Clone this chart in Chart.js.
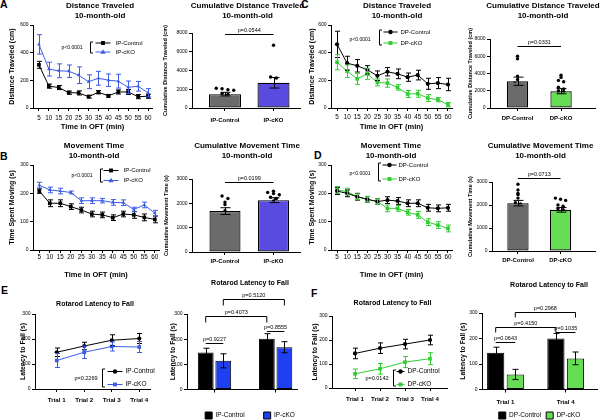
<!DOCTYPE html>
<html><head><meta charset="utf-8">
<script src="https://cdn.jsdelivr.net/npm/chart.js@4.4.0/dist/chart.umd.min.js"></script>
<style>
html,body{margin:0;padding:0;background:#fff;width:600px;height:420px;overflow:hidden;position:relative;font-family:'Liberation Sans',Arial,sans-serif}
canvas{position:absolute}
.lab{position:absolute;font-weight:bold;font-size:10.5px;line-height:11px;color:#000}
</style></head><body>
<div class="lab" style="left:0px;top:-1.5px">A</div>
<div class="lab" style="left:0px;top:150.5px">B</div>
<div class="lab" style="left:301px;top:-1.5px">C</div>
<div class="lab" style="left:314px;top:150px">D</div>
<div class="lab" style="left:1px;top:285px">E</div>
<div class="lab" style="left:311px;top:288px">F</div>
<script>
// ---------- data ----------
const minutes = [5,10,15,20,25,30,35,40,45,50,55,60];
const trials = ['Trial 1','Trial 2','Trial 3','Trial 4'];
const barTrials = ['Trial 1','Trial 4'];
const ipGroups = ['IP-Control','IP-cKO'];
const dpGroups = ['DP-Control','DP-cKO'];

// A: distance traveled (cm)
const ipDistCtrl    = [312,158,148,111,109,82,114,88,116,116,82,85];
const ipDistCtrlSem = [25,15,15,12,15,10,12,10,15,18,15,15];
const ipDistCko     = [460,281,269,266,237,190,215,201,194,150,157,110];
const ipDistCkoSem  = [70,50,50,45,60,50,50,45,50,45,35,30];
// C
const dpDistCtrl    = [460,324,305,276,233,262,247,223,238,175,180,170];
const dpDistCtrlSem = [95,50,45,30,35,30,35,30,35,40,40,45];
const dpDistCko     = [331,266,211,247,185,180,149,101,103,72,60,24];
const dpDistCkoSem  = [55,45,40,40,25,30,20,25,25,25,15,15];
// B: movement time (s)
const ipTimeCtrl    = [208,165,165,153,141,127,124,114,127,124,115,108];
const ipTimeCtrlSem = [8,12,12,10,10,10,10,10,10,12,12,12];
const ipTimeCko     = [229,212,208,203,174,174,174,168,167,143,159,130];
const ipTimeCkoSem  = [10,10,10,5,10,10,8,10,10,8,10,10];
// D
const dpTimeCtrl    = [208,200,188,179,171,176,173,165,165,149,147,149];
const dpTimeCtrlSem = [12,12,12,10,10,12,12,12,12,12,12,12];
const dpTimeCko     = [212,206,188,179,171,147,147,133,124,98,88,76];
const dpTimeCkoSem  = [12,12,10,10,10,12,10,10,12,12,12,12];

// cumulative bars (mean, SEM, individual animals)
const ipCumDist = [1480, 2690];
const ipCumDistSem = [190, 560];
const ipCumDistCtrlDots = [2100,2050,1950,1900,1550,1450,900,850,800];
const ipCumDistCkoDots  = [6700,3300,3200,2400,2300,1800,1700,1600,1100];
const dpCumDist = [3100, 1950];
const dpCumDistSem = [480, 300];
const dpCumDistCtrlDots = [6000,5700,3700,3300,2900,2750,2400,2050,1550,1000];
const dpCumDistCkoDots  = [3800,3550,3200,3050,2400,2200,2000,1900,1700,1500,1300,1100,700,350];
const ipCumTime = [1680, 2130];
const ipCumTimeSem = [140, 100];
const ipCumTimeCtrlDots = [2300,2200,2050,1950,1700,1500,1300,1200,1150];
const ipCumTimeCkoDots  = [2500,2450,2400,2350,2250,2200,2100,1900,1550];
const dpCumTime = [2080, 1790];
const dpCumTimeSem = [120, 100];
const dpCumTimeCtrlDots = [2900,2650,2500,2450,2300,2100,2050,1950,1800,1800,1750,1450,1350];
const dpCumTimeCkoDots  = [2300,2250,2200,2000,1950,1850,1800,1700,1700,1500,1400,1350,1300];

// E/F: rotarod latency to fall (s)
const ipRotCtrl    = [147,172,195,202];
const ipRotCtrlSem = [17,15,22,20];
const ipRotCko     = [114,147,170,168];
const ipRotCkoSem  = [28,25,18,22];
const dpRotCtrl    = [144,166,183,200];
const dpRotCtrlSem = [22,22,20,20];
const dpRotCko     = [59,80,108,122];
const dpRotCkoSem  = [20,22,23,25];

// p values
const pLines = ['p<0.0001','p<0.0001','p<0.0001','p<0.0001','p=0.2269','p=0.0142'];
const pBarsAD = ['p=0.0544','p=0.0331','p=0.0199','p=0.0713'];
const pBarsE = ['p=0.9227','p=0.8555','p=0.4073','p=0.5120'];
const pBarsF = ['p=0.0643','p=0.1035','p=0.4150','p=0.2968'];

// ---------- styles ----------
const FONT = "'Liberation Sans', Arial, sans-serif";
Chart.defaults.font.family = FONT;
Chart.defaults.color = '#000';
const C_BLACK = '#000000', C_GRAY = '#6b6b6b';
const C_IPLINE = '#3d5ce6', C_IPBAR = '#5a4be0', C_IPBARE = '#1f3ff2';
const C_DPLINE = '#33cc33', C_DPBAR = '#66dd55';

function drawMarker(ctx, style, x, y, r, fill) {
  ctx.save(); ctx.fillStyle = fill; ctx.beginPath();
  if (style === 'rect') { const h = r * 0.75; ctx.rect(x - h, y - h, 2*h, 2*h); }
  else if (style === 'triangle') { ctx.moveTo(x, y - r*1.1); ctx.lineTo(x + r, y + r*0.7); ctx.lineTo(x - r, y + r*0.7); ctx.closePath(); }
  else { ctx.arc(x, y, r*0.85, 0, Math.PI*2); }
  ctx.fill(); ctx.restore();
}

const errorBars = {
  id: 'errorBars',
  afterDatasetsDraw(chart) {
    const ctx = chart.ctx;
    chart.data.datasets.forEach((ds, di) => {
      if (!ds.errors) return;
      const meta = chart.getDatasetMeta(di);
      const ys = chart.scales[meta.yAxisID];
      ctx.save();
      ctx.strokeStyle = ds.errorColor || ds.borderColor;
      ctx.lineWidth = 1;
      meta.data.forEach((el, i) => {
        const v = meta.controller.getParsed(i).y;
        const e = ds.errors[i];
        const yt = ys.getPixelForValue(v + e), yb = ys.getPixelForValue(v - e);
        const x = Math.round(el.x) + 0.5, c = ds.capHalf || 2.5;
        ctx.beginPath();
        ctx.moveTo(x, yt); ctx.lineTo(x, yb);
        ctx.moveTo(x - c, yt); ctx.lineTo(x + c, yt);
        ctx.moveTo(x - c, yb); ctx.lineTo(x + c, yb);
        ctx.stroke();
      });
      ctx.restore();
    });
  }
};

function bracketLegend(o) {
  return { id: 'bracketLegend', afterDraw(chart) {
    const ctx = chart.ctx, ca = chart.chartArea;
    const bx = Math.round(ca.left + o.dx) + 0.5, top = ca.top + o.top, bot = ca.top + o.bot;
    ctx.save();
    ctx.strokeStyle = '#000'; ctx.lineWidth = 1;
    ctx.beginPath(); ctx.moveTo(bx + 2.5, top); ctx.lineTo(bx, top); ctx.lineTo(bx, bot); ctx.lineTo(bx + 2.5, bot); ctx.stroke();
    const rows = [top + o.inset, bot - o.inset];
    chart.data.datasets.forEach((ds, i) => {
      const y = rows[i];
      ctx.strokeStyle = ds.borderColor; ctx.lineWidth = 1;
      ctx.beginPath(); ctx.moveTo(bx + o.s0, y); ctx.lineTo(bx + o.s1, y); ctx.stroke();
      drawMarker(ctx, ds.pointStyle, bx + (o.s0 + o.s1) / 2, y, 2.6, ds.pointBackgroundColor);
      ctx.fillStyle = '#000'; ctx.font = o.fs + 'px ' + FONT; ctx.textAlign = 'left'; ctx.textBaseline = 'middle';
      ctx.fillText(ds.label, bx + o.tx, y);
    });
    ctx.fillStyle = '#000'; ctx.font = o.pfs + 'px ' + FONT; ctx.textAlign = 'right'; ctx.textBaseline = 'middle';
    ctx.fillText(o.p, bx + o.px, (top + bot) / 2 + (o.py || 0));
    ctx.restore();
  }};
}

function pBrackets(list, fs) {
  return { id: 'pBrackets', afterDraw(chart) {
    const ctx = chart.ctx, ys = chart.scales.y;
    ctx.save(); ctx.strokeStyle = '#000'; ctx.fillStyle = '#000'; ctx.lineWidth = 1;
    ctx.font = fs + 'px ' + FONT; ctx.textAlign = 'center'; ctx.textBaseline = 'middle';
    list.forEach(b => {
      const xa = chart.getDatasetMeta(b.a[0]).data[b.a[1]].x;
      const xb = chart.getDatasetMeta(b.b[0]).data[b.b[1]].x;
      const y = Math.round(ys.getPixelForValue(b.y)) + 0.5;
      ctx.beginPath();
      if (b.drop) { ctx.moveTo(xa, y + b.drop); ctx.lineTo(xa, y); ctx.lineTo(xb, y); ctx.lineTo(xb, y + b.drop); }
      else { ctx.moveTo(xa, y); ctx.lineTo(xb, y); }
      ctx.stroke();
      ctx.fillText(b.text, (xa + xb) / 2, y - 4);
    });
    ctx.restore();
  }};
}

function dotData(vals, center, binW, step) {
  const bins = new Map();
  vals.forEach((v, i) => { const k = Math.round(v / binW); if (!bins.has(k)) bins.set(k, []); bins.get(k).push(i); });
  const out = new Array(vals.length);
  bins.forEach(idx => idx.forEach((i, j) => { out[i] = {x: center + (j - (idx.length - 1) / 2) * step, y: vals[i]}; }));
  return out;
}
const pts = (xs, ys) => ys.map((y, i) => ({x: xs[i], y}));
const idx = arr => arr.map((_, i) => i + 1);

function lineDs(label, xs, ys, sem, color, style) {
  return {type: 'line', label, data: pts(xs, ys), errors: sem, borderColor: color, backgroundColor: color,
    borderWidth: 1, pointStyle: style, pointRadius: style === 'rect' ? 2.6 : 2.1, pointBackgroundColor: color,
    pointBorderWidth: 0, capHalf: 2.5, yAxisID: 'y'};
}

function build(g) {
  const cw = Math.round(2 * (g.tc - g.cx));
  const spacer = Math.max(0, g.cx + cw - g.R);
  const canvas = document.createElement('canvas');
  canvas.width = cw; canvas.height = g.ch;
  canvas.style.left = g.cx + 'px'; canvas.style.top = g.cy + 'px';
  canvas.style.width = cw + 'px'; canvas.style.height = g.ch + 'px';
  document.body.appendChild(canvas);
  const tfs = g.tfs || 8;
  const tlh = tfs * 1.2;
  const tPadTop = g.ty - g.cy - tlh / 2;
  const tPadBot = g.T - g.cy - tPadTop - g.title.length * tlh;
  const ytfs = g.ytfs || 7;
  const ylh = ytfs * 1.2;
  const xH = g.xH != null ? g.xH : g.cy + g.ch - g.B;
  const xfs = g.xfs || 6.3;
  const xPad = g.xly - g.B - 3 - xfs * 1.2 / 2;
  const xtfs = g.xtfs || 7.5;
  const scales = {
    x: {type: 'linear', min: g.xmin, max: g.xmax, offset: false,
      afterBuildTicks: s => { s.ticks = g.xvals.map(v => ({value: v})); },
      ticks: {autoSkip: false, maxRotation: 0, minRotation: 0, padding: xPad, color: '#000',
        font: {size: xfs, weight: g.xbold ? 'bold' : 'normal'},
        callback: v => { const k = g.xvals.indexOf(v); return k >= 0 ? g.xlabels[k] : ''; }},
      grid: {display: true, offset: false, drawOnChartArea: false, drawTicks: true, tickLength: 3, color: '#000', tickColor: '#000'},
      border: {display: true, color: '#000', width: 1},
      title: g.xt ? {display: true, text: g.xt, color: '#000', font: {size: xtfs, weight: 'bold'},
        padding: {top: 0, bottom: g.cy + g.ch - g.xty - xtfs * 1.2 / 2}} : {display: false},
      afterFit: s => { s.height = xH; }
    },
    y: {type: 'linear', position: 'left', min: 0, max: g.ymax,
      ticks: {stepSize: g.ystep, padding: 1.5, color: '#000', font: {size: 5}, callback: v => String(v)},
      grid: {display: true, drawOnChartArea: false, drawTicks: true, tickLength: 3, color: '#000', tickColor: '#000'},
      border: {display: true, color: '#000', width: 1},
      title: {display: true, text: g.yt, color: '#000', font: {size: ytfs, weight: 'bold'},
        padding: {top: g.ytx - g.cx - ylh / 2, bottom: 0}},
      afterFit: s => { s.width = g.L - g.cx; }
    },
    sp: {type: 'linear', axis: 'y', position: 'right', display: true,
      ticks: {display: false}, grid: {display: false, drawTicks: false}, border: {display: false},
      afterFit: s => { s.width = spacer; }
    }
  };
  return new Chart(canvas, {
    type: g.type || 'line',
    data: {datasets: g.datasets},
    options: {
      responsive: false, animation: false, events: [], devicePixelRatio: 1,
      layout: {padding: 0},
      plugins: {
        title: {display: true, text: g.title, color: '#000', font: {size: tfs, weight: 'bold', lineHeight: 1.2},
          padding: {top: tPadTop, bottom: tPadBot}},
        legend: g.legend ? {display: true, position: 'bottom', fullSize: g.legend.full,
          labels: {boxWidth: 7, boxHeight: 7, padding: g.legend.p, color: '#000', font: {size: 6.5}}} : {display: false},
        tooltip: {enabled: false}
      },
      scales
    },
    plugins: [errorBars].concat(g.plugins || [])
  });
}

function cumBar(groupColors, means, sems, ctrlDots, ckoDots, binW, barPct) {
  return [
    {type: 'bar', label: 'mean', data: [{x: 0, y: means[0]}, {x: 1, y: means[1]}],
      backgroundColor: groupColors, borderColor: '#000', borderWidth: 1.2, borderSkipped: false,
      barPercentage: barPct, categoryPercentage: 1, errors: sems, errorColor: '#000', capHalf: 5, yAxisID: 'y'},
    {type: 'scatter', label: 'animals', data: dotData(ctrlDots, 0, binW, 0.12).concat(dotData(ckoDots, 1, binW, 0.12)),
      pointRadius: 1.7, pointBackgroundColor: '#000', pointBorderWidth: 0, yAxisID: 'y'}
  ];
}

const mLabels = minutes.map(String);
const lineLegendAD = (dx, top, bot, inset, s0, s1, tx, px, p, py) =>
  bracketLegend({dx, top, bot, inset, s0, s1, tx, px, fs: 6, pfs: 5, p, py});

// ---- A line ----
build({cx: 0, cy: 0, ch: 135, L: 33, T: 25, R: 152, B: 108, tc: 100, ty: 6,
  title: ['Distance Traveled', '10-month-old'], yt: 'Distance Traveled (cm)', ytx: 12, ymax: 600, ystep: 200,
  xmin: 2, xmax: 62, xvals: minutes, xlabels: mLabels, xly: 118, xt: 'Time in OFT (min)', xty: 127,
  datasets: [lineDs('IP-Control', minutes, ipDistCtrl, ipDistCtrlSem, C_BLACK, 'rect'),
             lineDs('IP-cKO', minutes, ipDistCko, ipDistCkoSem, C_IPLINE, 'triangle')],
  plugins: [lineLegendAD(57, 17, 28, 1, 5, 20, 25, -8, pLines[0], 0)]});

// ---- A bar ----
build({type: 'bar', cx: 160, cy: 0, ch: 135, L: 192, T: 33, R: 300, B: 108, tc: 247.5, ty: 6,
  title: ['Cumulative Distance Traveled', '10-month-old'], yt: 'Cumulative Distance Traveled (cm)', ytx: 165, ytfs: 5.5,
  ymax: 8000, ystep: 2000, xmin: -0.68, xmax: 1.546, xvals: [0, 1], xlabels: ipGroups, xfs: 6, xbold: true, xly: 120,
  datasets: cumBar([C_GRAY, C_IPBAR], ipCumDist, ipCumDistSem, ipCumDistCtrlDots, ipCumDistCkoDots, 400, 0.66),
  plugins: [pBrackets([{a: [0, 0], b: [0, 1], y: 7900, text: pBarsAD[0]}], 5.5)]});

// ---- C line ----
build({cx: 300, cy: 0, ch: 135, L: 331, T: 25, R: 452, B: 108, tc: 397, ty: 6,
  title: ['Distance Traveled', '10-month-old'], yt: 'Distance Traveled (cm)', ytx: 312, ymax: 600, ystep: 200,
  xmin: 2, xmax: 62, xvals: minutes, xlabels: mLabels, xly: 117.5, xt: 'Time in OFT (min)', xty: 126.5,
  datasets: [lineDs('DP-Control', minutes, dpDistCtrl, dpDistCtrlSem, C_BLACK, 'circle'),
             lineDs('DP-cKO', minutes, dpDistCko, dpDistCkoSem, C_DPLINE, 'rect')],
  plugins: [lineLegendAD(48, 5, 20, 2, 4, 18, 21, -9, pLines[2], 2)]});

// ---- C bar ----
build({type: 'bar', cx: 460, cy: 0, ch: 135, L: 490, T: 39, R: 595, B: 108, tc: 543, ty: 6,
  title: ['Cumulative Distance Traveled', '10-month-old'], yt: 'Cumulative Distance Traveled (cm)', ytx: 470.7, ytfs: 5.5,
  ymax: 8000, ystep: 2000, xmin: -0.632, xmax: 1.78, xvals: [0, 1], xlabels: dpGroups, xfs: 6, xbold: true, xly: 118,
  datasets: cumBar([C_GRAY, C_DPBAR], dpCumDist, dpCumDistSem, dpCumDistCtrlDots, dpCumDistCkoDots, 400, 0.49),
  plugins: [pBrackets([{a: [0, 0], b: [0, 1], y: 7190, text: pBarsAD[1]}], 5.5)]});

// ---- B line ----
build({cx: 0, cy: 140, ch: 140, L: 33, T: 165, R: 159, B: 250, tc: 94, ty: 146,
  title: ['Movement Time', '10-month-old'], yt: 'Time Spent Moving (s)', ytx: 12, ymax: 300, ystep: 100,
  xmin: 2, xmax: 62, xvals: minutes, xlabels: mLabels, xly: 257.5, xt: 'Time in OFT (min)', xty: 275,
  datasets: [lineDs('IP-Control', minutes, ipTimeCtrl, ipTimeCtrlSem, C_BLACK, 'rect'),
             lineDs('IP-cKO', minutes, ipTimeCko, ipTimeCkoSem, C_IPLINE, 'triangle')],
  plugins: [lineLegendAD(67, 4, 17, 1.5, 3, 18, 23, -8, pLines[1], 0)]});

// ---- B bar ----
build({type: 'bar', cx: 160, cy: 140, ch: 140, L: 192, T: 179, R: 300, B: 252, tc: 247, ty: 146,
  title: ['Cumulative Movement Time', '10-month-old'], yt: 'Cumulative Movement Time (s)', ytx: 166.7, ytfs: 5.5,
  ymax: 3000, ystep: 1000, xmin: -0.68, xmax: 1.546, xvals: [0, 1], xlabels: ipGroups, xfs: 6, xbold: true, xly: 261.7,
  datasets: cumBar([C_GRAY, C_IPBAR], ipCumTime, ipCumTimeSem, ipCumTimeCtrlDots, ipCumTimeCkoDots, 150, 0.64),
  plugins: [pBrackets([{a: [0, 0], b: [0, 1], y: 2877, text: pBarsAD[2]}], 5.5)]});

// ---- D line ----
build({cx: 300, cy: 140, ch: 140, L: 331, T: 165, R: 452, B: 250, tc: 391, ty: 146,
  title: ['Movement Time', '10-month-old'], yt: 'Time Spent Moving (s)', ytx: 312, ymax: 300, ystep: 100,
  xmin: 2, xmax: 62, xvals: minutes, xlabels: mLabels, xly: 257.5, xt: 'Time in OFT (min)', xty: 275,
  datasets: [lineDs('DP-Control', minutes, dpTimeCtrl, dpTimeCtrlSem, C_BLACK, 'circle'),
             lineDs('DP-cKO', minutes, dpTimeCko, dpTimeCkoSem, C_DPLINE, 'rect')],
  plugins: [lineLegendAD(47, -2, 16, 2, 4, 18, 20, -8, pLines[3], 2)]});

// ---- D bar ----
build({type: 'bar', cx: 460, cy: 140, ch: 140, L: 492, T: 182, R: 595, B: 251, tc: 540.5, ty: 146,
  title: ['Cumulative Movement Time', '10-month-old'], yt: 'Cumulative Movement Time (s)', ytx: 470.7, ytfs: 5.5,
  ymax: 3000, ystep: 1000, xmin: -0.61, xmax: 1.81, xvals: [0, 1], xlabels: dpGroups, xfs: 6, xbold: true, xly: 260.7,
  datasets: cumBar([C_GRAY, C_DPBAR], dpCumTime, dpCumTimeSem, dpCumTimeCtrlDots, dpCumTimeCkoDots, 150, 0.5),
  plugins: [pBrackets([{a: [0, 0], b: [0, 1], y: 3174, text: pBarsAD[3]}], 5.5)]});

// ---- E line ----
build({cx: 0, cy: 280, ch: 140, L: 35, T: 314, R: 150, B: 389, tc: 95, ty: 304, tfs: 7,
  title: ['Rotarod Latency to Fall'], yt: 'Latency to Fall (s)', ytx: 23.3, ytfs: 6.7, ymax: 300, ystep: 100,
  xmin: 0.21, xmax: 4.39, xvals: idx(trials), xlabels: trials, xfs: 6.2, xbold: true, xly: 400,
  datasets: [lineDs('IP-Control', idx(trials), ipRotCtrl, ipRotCtrlSem, C_BLACK, 'circle'),
             lineDs('IP-cKO', idx(trials), ipRotCko, ipRotCkoSem, C_IPLINE, 'rect')],
  plugins: [bracketLegend({dx: 67, top: 55, bot: 73, inset: 2.5, s0: 5, s1: 20, tx: 23, px: -5, fs: 6.5, pfs: 5.5, p: pLines[4]})]});

// ---- E bar ----
build({type: 'bar', cx: 160, cy: 275, ch: 154, L: 187, T: 314, R: 297, B: 389, tc: 250, ty: 283, tfs: 7,
  title: ['Rotarod Latency to Fall'], yt: 'Latency to Fall (s)', ytx: 173.3, ytfs: 6.7, ymax: 300, ystep: 100,
  xmin: -0.45, xmax: 1.35, xvals: [0, 1], xlabels: barTrials, xfs: 6.2, xbold: true, xly: 400, xH: 3.5, legend: {p: 19, full: true},
  datasets: [
    {type: 'bar', label: 'IP-Control', data: [{x: 0, y: ipRotCtrl[0]}, {x: 1, y: ipRotCtrl[3]}], errors: [ipRotCtrlSem[0], ipRotCtrlSem[3]],
      backgroundColor: C_BLACK, borderColor: '#000', borderWidth: 1, borderSkipped: false, categoryPercentage: 0.574, barPercentage: 0.9,
      errorColor: '#000', capHalf: 3, yAxisID: 'y'},
    {type: 'bar', label: 'IP-cKO', data: [{x: 0, y: ipRotCko[0]}, {x: 1, y: ipRotCko[3]}], errors: [ipRotCkoSem[0], ipRotCkoSem[3]],
      backgroundColor: C_IPBARE, borderColor: '#000', borderWidth: 1, borderSkipped: false, categoryPercentage: 0.574, barPercentage: 0.9,
      errorColor: '#000', capHalf: 3, yAxisID: 'y'}],
  plugins: [pBrackets([
    {a: [0, 0], b: [1, 0], y: 184, text: pBarsE[0]},
    {a: [0, 1], b: [1, 1], y: 232, text: pBarsE[1]},
    {a: [0, 0], b: [0, 1], y: 292, drop: 6, text: pBarsE[2]},
    {a: [1, 0], b: [1, 1], y: 360, drop: 6, text: pBarsE[3]}], 5.5)]});

// ---- F line ----
build({cx: 300, cy: 280, ch: 140, L: 332, T: 316, R: 447, B: 388, tc: 392.5, ty: 303, tfs: 7,
  title: ['Rotarod Latency to Fall'], yt: 'Latency to Fall (s)', ytx: 315, ytfs: 6.7, ymax: 300, ystep: 100,
  xmin: 0.08, xmax: 4.68, xvals: idx(trials), xlabels: trials, xfs: 6.2, xbold: true, xly: 399,
  datasets: [lineDs('DP-Control', idx(trials), dpRotCtrl, dpRotCtrlSem, C_BLACK, 'circle'),
             lineDs('DP-cKO', idx(trials), dpRotCko, dpRotCkoSem, C_DPLINE, 'rect')],
  plugins: [bracketLegend({dx: 61, top: 54, bot: 70, inset: 1.5, s0: 3, s1: 11, tx: 14, px: -5, fs: 6.5, pfs: 5.5, p: pLines[5]})]});

// ---- F bar ----
build({type: 'bar', cx: 455, cy: 275, ch: 154, L: 482, T: 313, R: 597, B: 389, tc: 549, ty: 285, tfs: 7,
  title: ['Rotarod Latency to Fall'], yt: 'Latency to Fall (s)', ytx: 462.7, ytfs: 6.7, ymax: 300, ystep: 100,
  xmin: -0.39, xmax: 1.52, xvals: [0, 1], xlabels: barTrials, xfs: 6.2, xbold: true, xly: 402, xH: 17.5, legend: {p: 5, full: false},
  datasets: [
    {type: 'bar', label: 'DP-Control', data: [{x: 0, y: dpRotCtrl[0]}, {x: 1, y: dpRotCtrl[3]}], errors: [dpRotCtrlSem[0], dpRotCtrlSem[3]],
      backgroundColor: C_BLACK, borderColor: '#000', borderWidth: 1, borderSkipped: false, categoryPercentage: 0.65, barPercentage: 0.88,
      errorColor: '#000', capHalf: 3, yAxisID: 'y'},
    {type: 'bar', label: 'DP-cKO', data: [{x: 0, y: dpRotCko[0]}, {x: 1, y: dpRotCko[3]}], errors: [dpRotCkoSem[0], dpRotCkoSem[3]],
      backgroundColor: C_DPBAR, borderColor: '#000', borderWidth: 1, borderSkipped: false, categoryPercentage: 0.65, barPercentage: 0.88,
      errorColor: '#000', capHalf: 3, yAxisID: 'y'}],
  plugins: [pBrackets([
    {a: [0, 0], b: [1, 0], y: 186, text: pBarsF[0]},
    {a: [0, 1], b: [1, 1], y: 225, text: pBarsF[1]},
    {a: [0, 0], b: [0, 1], y: 245, drop: 5, text: pBarsF[2]},
    {a: [1, 0], b: [1, 1], y: 303, drop: 5, text: pBarsF[3]}], 5.5)]});
</script>
</body></html>
